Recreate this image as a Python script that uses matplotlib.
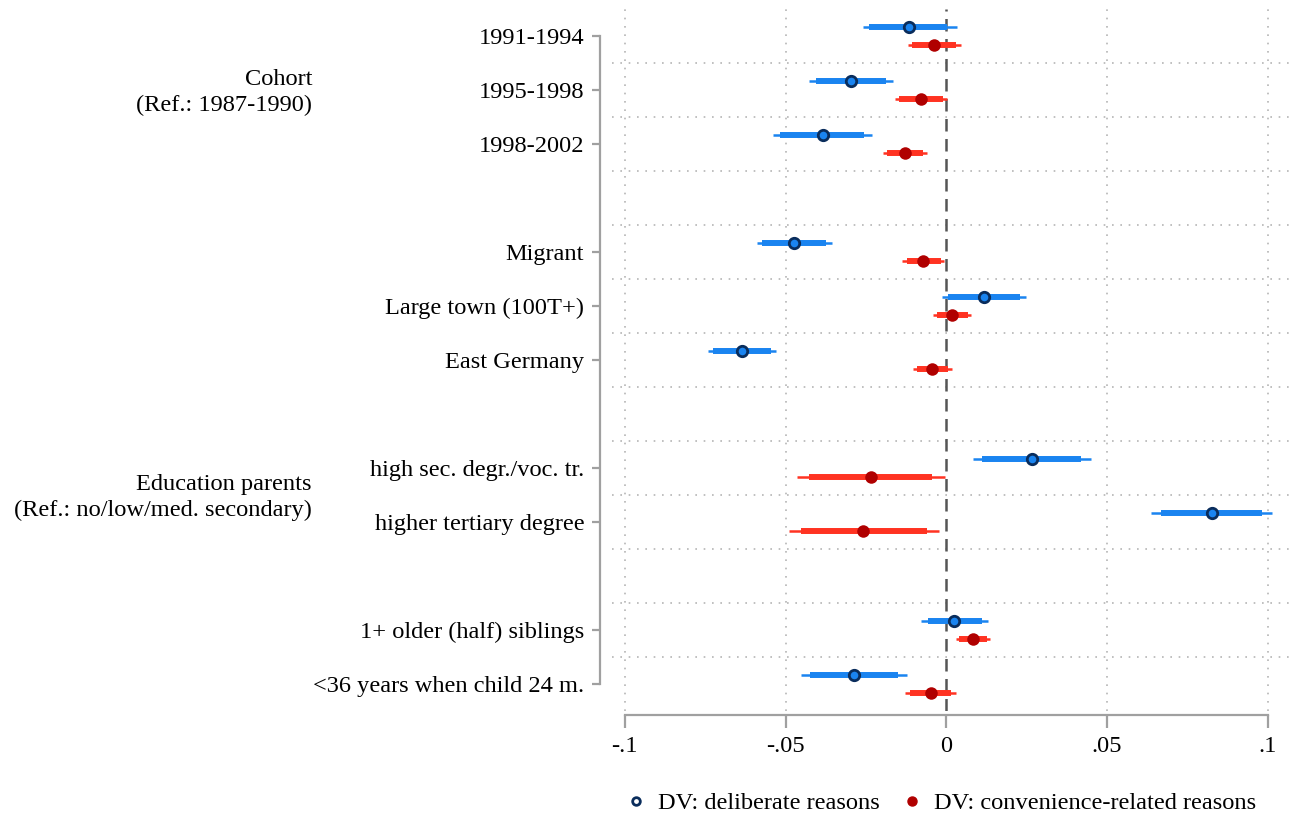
import numpy as np
import matplotlib
matplotlib.use("Agg")
import matplotlib.pyplot as plt
from matplotlib.lines import Line2D
from matplotlib import transforms

plt.rcParams["font.family"] = ["Liberation Serif", "DejaVu Serif"]

# coefficient labels, grouped (an empty slot separates groups)
groups = [
    ["1991-1994", "1995-1998", "1998-2002"],
    ["Migrant", "Large town (100T+)", "East Germany"],
    ["high sec. degr./voc. tr.", "higher tertiary degree"],
    ["1+ older (half) siblings", "<36 years when child 24 m."],
]
group_titles = ["Cohort\n(Ref.: 1987-1990)", None,
                "Education parents\n(Ref.: no/low/med. secondary)", None]

# DV: deliberate reasons
delib_b    = [-0.0115, -0.0295, -0.0383, -0.0473, 0.0118, -0.0634, 0.0267, 0.0827, 0.0025, -0.0287]
delib_lo95 = [-0.0260, -0.0426, -0.0540, -0.0590, -0.0012, -0.0740, 0.0084, 0.0638, -0.0079, -0.0453]
delib_hi95 = [0.0034, -0.0165, -0.0230, -0.0355, 0.0249, -0.0530, 0.0451, 0.1014, 0.0130, -0.0121]
delib_lo90 = [-0.0240, -0.0404, -0.0516, -0.0572, 0.0006, -0.0725, 0.0112, 0.0669, -0.0058, -0.0425]
delib_hi90 = [0.0003, -0.0187, -0.0255, -0.0373, 0.0230, -0.0544, 0.0420, 0.0983, 0.0112, -0.0150]

# DV: convenience-related reasons
conv_b    = [-0.0037, -0.0078, -0.0128, -0.0071, 0.0019, -0.0044, -0.0233, -0.0258, 0.0085, -0.0048]
conv_lo95 = [-0.0120, -0.0159, -0.0196, -0.0137, -0.0040, -0.0103, -0.0463, -0.0488, 0.0031, -0.0127]
conv_hi95 = [0.0047, 0.0003, -0.0060, -0.0006, 0.0078, 0.0019, -0.0003, -0.0022, 0.0137, 0.0030]
conv_lo90 = [-0.0106, -0.0146, -0.0184, -0.0121, -0.0028, -0.0090, -0.0426, -0.0451, 0.0041, -0.0114]
conv_hi90 = [0.0030, -0.0010, -0.0072, -0.0016, 0.0068, 0.0006, -0.0044, -0.0060, 0.0128, 0.0016]

xticks = [-0.1, -0.05, 0, 0.05, 0.1]
xticklabels = ["-.1", "-.05", "0", ".05", ".1"]

# slot positions: groups separated by one empty slot
labels, pos, group_centers = [], [], []
slot = 0
for g in groups:
    start = slot
    for lab in g:
        labels.append(lab)
        pos.append(slot)
        slot += 1
    group_centers.append((start + slot - 1) / 2)
    slot += 1
pos = np.array(pos, dtype=float)
last = pos[-1]

BLUE = "#1a84f0"
NAVY = "#0a2d5c"
RED_LINE = "#ff3322"
RED_DOT = "#b00000"
GRID = "#b5b5b5"
AXIS = "#a0a0a0"
FS = 17.6

fig = plt.figure(figsize=(12.9, 8.16), dpi=100)
ax = fig.add_axes([612 / 1290, 1 - 711 / 816, 1 - 612 / 1290, 702 / 816])

# grid
for y in np.arange(0.5, last, 1.0):
    ax.axhline(y, color=GRID, lw=1.2, ls=(0, (1, 4)), zorder=0)
for x in [-0.1, -0.05, 0.05, 0.1]:
    ax.axvline(x, color=GRID, lw=1.2, ls=(0, (1, 4)), zorder=0)
ax.axvline(0, color="#555555", lw=1.8, ls=(0, (5, 3)), zorder=1)

off = 0.167
yb = pos - off
yr = pos + off
ax.hlines(yb, delib_lo95, delib_hi95, color=BLUE, lw=1.8, zorder=2)
ax.hlines(yb, delib_lo90, delib_hi90, color=BLUE, lw=4.3, zorder=2)
ax.plot(delib_b, yb, "o", ms=7.5, mfc=BLUE, mec=NAVY, mew=2.0, zorder=3)

ax.hlines(yr, conv_lo95, conv_hi95, color=RED_LINE, lw=1.8, zorder=2)
ax.hlines(yr, conv_lo90, conv_hi90, color=RED_LINE, lw=4.3, zorder=2)
ax.plot(conv_b, yr, "o", ms=9, mfc=RED_DOT, mec=RED_DOT, mew=0, zorder=3)

for s in ["top", "right"]:
    ax.spines[s].set_visible(False)
ax.spines["left"].set_position(("outward", 9))
ax.spines["bottom"].set_position(("outward", 3))

ax.set_xlim(-0.104, 0.107)
ax.set_ylim(last + 0.5, -0.5)
ax.set_yticks(pos)
ax.set_yticklabels(labels)
ax.set_xticks(xticks)
ax.set_xticklabels(xticklabels)

ax.spines["left"].set_bounds(pos[0], pos[-1])
ax.spines["bottom"].set_bounds(-0.1, 0.1)
for s in ["left", "bottom"]:
    ax.spines[s].set_color(AXIS)
    ax.spines[s].set_linewidth(1.6)
ax.tick_params(axis="y", length=6, width=1.6, color=AXIS, pad=5, labelsize=FS)
ax.tick_params(axis="x", length=9, width=1.6, color=AXIS, pad=6, labelsize=FS)

# group titles
trans = transforms.blended_transform_factory(fig.transFigure, ax.transData)
for title, yc in zip(group_titles, group_centers):
    if title:
        ax.text(312 / 1290, yc + 0.05, title, transform=trans, ha="right", va="center",
                fontsize=FS, linespacing=1.3)

handles = [
    Line2D([], [], ls="none", marker="o", ms=5.5, mfc="white", mec=NAVY, mew=2.0),
    Line2D([], [], ls="none", marker="o", ms=6.5, mfc=RED_DOT, mec=RED_DOT),
]
fig.legend(handles, ["DV: deliberate reasons", "DV: convenience-related reasons"],
           loc="center", bbox_to_anchor=(940 / 1290, 1 - 803 / 816), ncol=2,
           frameon=False, fontsize=FS, handletextpad=0.4, columnspacing=0.8,
           handlelength=1.0)

fig.savefig("out.png", dpi=100)
